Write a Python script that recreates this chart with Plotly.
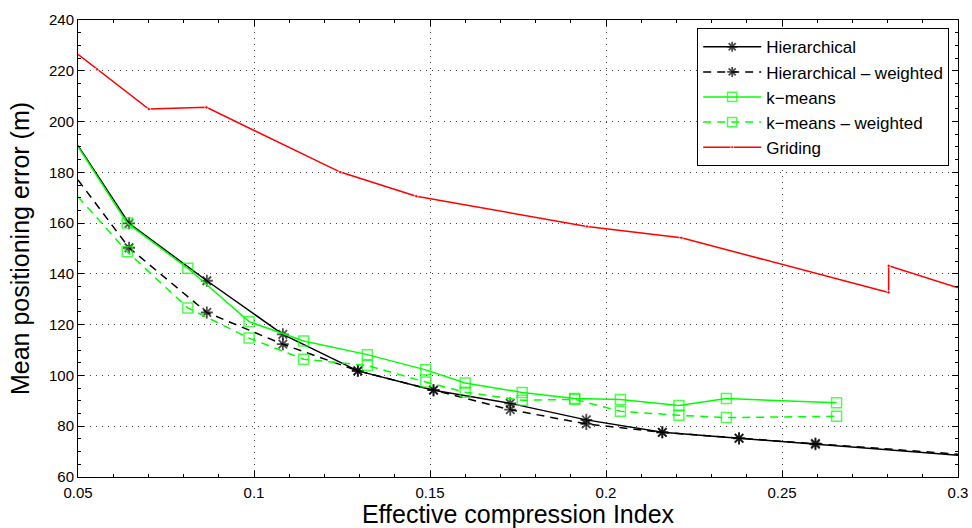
import plotly.graph_objects as go

# Data
hier_x = [0.05, 0.0645, 0.0866, 0.1082, 0.1295, 0.151, 0.1728, 0.1944, 0.216, 0.2378, 0.2595, 0.3]
hier_y = [190.5, 159.9, 137.3, 116.2, 101.8, 94.2, 89.0, 82.5, 77.6, 75.2, 72.9, 68.6]
hier_w_y = [177.0, 150.3, 124.8, 112.3, 101.8, 94.2, 86.5, 80.9, 77.6, 75.3, 73.2, 69.0]

km_x = [0.05, 0.064, 0.0812, 0.0986, 0.1141, 0.1322, 0.1488, 0.16, 0.1762, 0.1911, 0.2041, 0.2207, 0.2342, 0.2655]
km_y = [190.1, 160.0, 142.2, 121.2, 113.6, 108.2, 102.2, 97.0, 93.3, 90.9, 90.5, 88.2, 90.9, 89.2]
km_w_y = [170.4, 148.7, 126.6, 114.7, 106.4, 103.9, 97.4, 93.4, 90.2, 90.6, 85.9, 84.3, 83.4, 83.9]

grid_x = [0.05, 0.0554, 0.0701, 0.0865, 0.1245, 0.1461, 0.1946, 0.2214, 0.2803, 0.2803, 0.3]
grid_y = [226.5, 220.6, 204.9, 205.6, 180.1, 170.6, 158.7, 154.2, 132.7, 143.2, 134.5]

x_ticks = [0.05, 0.1, 0.15, 0.2, 0.25, 0.3]
x_labels = ["0.05", "0.1", "0.15", "0.2", "0.25", "0.3"]
y_ticks = [60, 80, 100, 120, 140, 160, 180, 200, 220, 240]

FONT = "Liberation Sans, Arial, Helvetica"


def sizes(n, s, hide_first=True, hide_last=False):
    arr = [s] * n
    if hide_first:
        arr[0] = 0
    if hide_last:
        arr[-1] = 0
    return arr


fig = go.Figure()
fig.add_trace(go.Scatter(
    x=hier_x, y=hier_y, name="Hierarchical", mode="lines+markers",
    line=dict(color="black", width=1.5),
    marker=dict(symbol="asterisk-open", size=sizes(len(hier_x), 10, True, True),
                color="black", line=dict(color="black", width=1.8)),
))
fig.add_trace(go.Scatter(
    x=hier_x, y=hier_w_y, name="Hierarchical \u2013 weighted", mode="lines+markers",
    line=dict(color="black", width=1.5, dash="8px,6px"),
    marker=dict(symbol="asterisk-open", size=sizes(len(hier_x), 10, True, True),
                color="black", line=dict(color="black", width=1.8)),
))
fig.add_trace(go.Scatter(
    x=km_x, y=km_y, name="k\u2212means", mode="lines+markers",
    line=dict(color="#00ff00", width=1.5),
    marker=dict(symbol="square-open", size=sizes(len(km_x), 10),
                color="#00ff00", line=dict(color="#00ff00", width=1.5)),
))
fig.add_trace(go.Scatter(
    x=km_x, y=km_w_y, name="k\u2212means \u2013 weighted", mode="lines+markers",
    line=dict(color="#00ff00", width=1.5, dash="8px,6px"),
    marker=dict(symbol="square-open", size=sizes(len(km_x), 10),
                color="#00ff00", line=dict(color="#00ff00", width=1.5)),
))
fig.add_trace(go.Scatter(
    x=grid_x, y=grid_y, name="Griding", mode="lines+markers",
    line=dict(color="red", width=1.5),
    marker=dict(symbol="circle", size=sizes(len(grid_x), 3.5, True, True), color="red"),
))

axis_common = dict(
    showline=True, linecolor="black", linewidth=1, mirror="allticks",
    ticks="inside", ticklen=6, tickcolor="black", tickwidth=1,
    showgrid=True, gridcolor="#444444", griddash="1px,5px", gridwidth=1,
    zeroline=False, automargin=False,
    tickfont=dict(family=FONT, size=15, color="black"),
)

fig.update_xaxes(
    range=[0.05, 0.3], tickvals=x_ticks, ticktext=x_labels,
    title=dict(text="Effective compression Index", standoff=2,
               font=dict(family=FONT, size=25, color="black")),
    minor=dict(ticks="inside", ticklen=3, dtick=0.01, tickcolor="black", showgrid=False),
    ticklabelstandoff=2,
    **axis_common,
)
fig.update_yaxes(
    range=[60, 240], tickvals=y_ticks,
    title=dict(text="Mean positioning error (m)", standoff=12,
               font=dict(family=FONT, size=25, color="black")),
    minor=dict(ticks="inside", ticklen=3, dtick=5, tickcolor="black", showgrid=False),
    **axis_common,
)

fig.update_layout(
    width=972, height=528,
    margin=dict(l=78, r=14, t=20, b=51),
    plot_bgcolor="white", paper_bgcolor="white",
    showlegend=True,
    legend=dict(
        x=0.99, y=0.982, xanchor="right", yanchor="top",
        bgcolor="white", bordercolor="black", borderwidth=1,
        font=dict(family=FONT, size=17, color="black"),
        itemwidth=58, tracegroupgap=0,
    ),
)

fig.write_html("out.html")
